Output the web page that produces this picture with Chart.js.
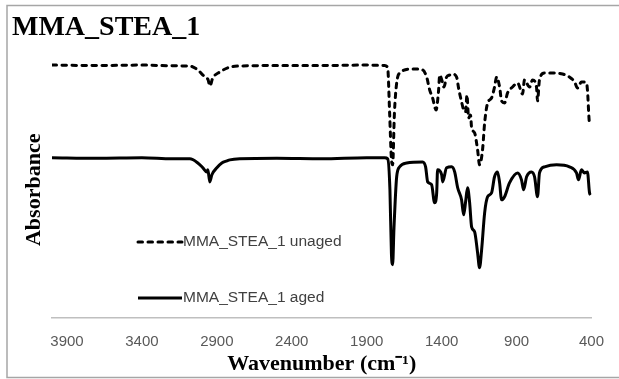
<!DOCTYPE html>
<html>
<head>
<meta charset="utf-8">
<script src="https://cdn.jsdelivr.net/npm/chart.js@4"></script>
<style>
  body { margin: 0; background: #fff; }
  #wrap { width: 619px; height: 379px; }
</style>
</head>
<body>
<div id="wrap"><canvas id="ftirChart" width="619" height="379"></canvas></div>
<script>
// x axis tick labels (wavenumber, cm-1)
const xTicks = [3900, 3400, 2900, 2400, 1900, 1400, 900, 400];

// unaged spectrum (dashed), offset absorbance in arbitrary units
const unagedWn = [4000, 3700, 3400, 3200, 3080, 3027, 2993, 2967, 2958, 2953, 2947, 2927, 2880, 2813, 2760, 2500, 2200, 1900, 1780, 1760, 1747, 1735, 1727, 1715, 1700, 1680, 1593, 1527, 1500, 1480, 1460, 1437, 1420, 1413, 1393, 1385, 1367, 1347, 1327, 1300, 1287, 1267, 1253, 1240, 1231, 1220, 1207, 1200, 1180, 1160, 1147, 1127, 1113, 1093, 1067, 1047, 1033, 1013, 1000, 980, 960, 927, 893, 860, 847, 813, 793, 767, 760, 747, 713, 660, 593, 547, 513, 493, 467, 433, 427, 413, 405];
const unagedAbs = [98.8, 98.6, 98.8, 98.5, 98.4, 96.9, 94.9, 93.75, 93.0, 91.8, 90.6, 93.75, 96.1, 98.0, 98.4, 98.6, 98.6, 98.8, 98.6, 97.7, 80, 62, 59.8, 80, 91.8, 95.7, 97.3, 96.9, 94.1, 89.1, 85.9, 81.25, 89.1, 94.9, 91.8, 90.2, 94.1, 94.9, 95.3, 94.1, 89.8, 84.4, 81.25, 80.5, 87.1, 78.1, 79.3, 74.2, 72.3, 65.6, 59.8, 65.6, 76.2, 84.0, 85.9, 90.2, 94.1, 90.2, 84.8, 84.0, 87.9, 90.2, 91.8, 87.5, 93.0, 90.2, 93.0, 90.2, 84.8, 93.0, 95.7, 95.7, 95.3, 94.1, 92.2, 89.8, 92.2, 91.8, 89.1, 76.2, 76];

// aged spectrum (solid)
const agedWn = [4000, 3700, 3400, 3200, 3080, 3027, 2993, 2967, 2960, 2947, 2933, 2900, 2867, 2833, 2813, 2747, 2500, 2200, 1900, 1780, 1760, 1745, 1735, 1727, 1718, 1700, 1680, 1633, 1527, 1507, 1493, 1467, 1447, 1433, 1427, 1400, 1393, 1367, 1333, 1313, 1293, 1267, 1253, 1240, 1227, 1213, 1200, 1180, 1160, 1147, 1133, 1113, 1093, 1067, 1047, 1027, 1013, 1000, 980, 947, 893, 867, 853, 833, 800, 780, 760, 747, 713, 633, 547, 500, 487, 467, 447, 427, 413, 405];
const agedAbs = [62.5, 62.3, 62.5, 62.1, 62.1, 60.5, 58.6, 57.0, 57.8, 53.1, 55.9, 58.6, 60.5, 61.3, 61.7, 62.1, 62.3, 62.1, 62.5, 62.5, 62.1, 50, 25, 20.7, 35, 55.1, 59.0, 60.5, 60.9, 59.0, 53.1, 52.0, 44.9, 48.8, 57.8, 55.9, 53.1, 58.6, 59.0, 57.0, 50.8, 46.1, 40.2, 45.3, 50.8, 44.9, 35.5, 33.6, 25.4, 19.5, 26.6, 41.0, 47.3, 48.8, 55.1, 57.0, 52.7, 46.1, 47.3, 52.7, 56.6, 53.9, 50.0, 55.1, 57.0, 55.1, 47.3, 56.6, 59.0, 59.8, 59.0, 56.6, 53.9, 57.8, 56.6, 57.0, 48.8, 48];

const seriesLabels = ['MMA_STEA_1 unaged', 'MMA_STEA_1 aged'];

function toPoints(xs, ys) {
    return xs.map((x, i) => ({ x: x, y: ys[i] }));
}

// legend drawn inside the plot, bottom-left, like the Excel original
const insideLegend = {
    id: 'insideLegend',
    afterDraw(chart) {
        const ctx = chart.ctx;
        const rows = [242, 298];
        const x0 = 138, lineLen = 44;
        ctx.save();
        chart.data.datasets.forEach((ds, i) => {
            const y = rows[i];
            ctx.beginPath();
            ctx.setLineDash(ds.borderDash || []);
            ctx.lineCap = ds.borderCapStyle || 'butt';
            ctx.lineWidth = ds.borderWidth;
            ctx.strokeStyle = ds.borderColor;
            ctx.moveTo(x0, y);
            ctx.lineTo(x0 + lineLen, y);
            ctx.stroke();
            ctx.setLineDash([]);
            ctx.fillStyle = '#404040';
            ctx.font = '15.5px "Liberation Sans"';
            ctx.textBaseline = 'middle';
            ctx.textAlign = 'left';
            ctx.fillText(ds.label, x0 + lineLen + 1, y);
        });
        ctx.restore();
    }
};

// outer chart border
const outerBorder = {
    id: 'outerBorder',
    afterDraw(chart) {
        const ctx = chart.ctx;
        ctx.save();
        ctx.strokeStyle = '#a6a6a6';
        ctx.lineWidth = 1.5;
        ctx.strokeRect(7, 5.5, 620, 372);
        ctx.restore();
    }
};

const ctx = document.getElementById('ftirChart').getContext('2d');
new Chart(ctx, {
    type: 'line',
    data: {
        datasets: [{
            label: seriesLabels[0],
            data: toPoints(unagedWn, unagedAbs),
            borderColor: '#000000',
            borderWidth: 3,
            borderDash: [4.5, 5.5],
            borderCapStyle: 'round',
            cubicInterpolationMode: 'monotone',
            pointRadius: 0,
            fill: false
        }, {
            label: seriesLabels[1],
            data: toPoints(agedWn, agedAbs),
            borderColor: '#000000',
            borderWidth: 3,
            cubicInterpolationMode: 'monotone',
            pointRadius: 0,
            fill: false
        }]
    },
    options: {
        responsive: false,
        animation: false,
        layout: {
            padding: { left: 12, right: 27, top: 4, bottom: 0 }
        },
        plugins: {
            legend: { display: false },
            tooltip: { enabled: false },
            title: {
                display: true,
                text: 'MMA_STEA_1',
                align: 'start',
                color: '#000000',
                font: { family: 'Liberation Serif', size: 28, weight: 'bold' },
                padding: { top: 7, bottom: 17.4 }
            }
        },
        scales: {
            x: {
                type: 'linear',
                reverse: true,
                min: 400,
                max: 4000,
                afterBuildTicks: (axis) => {
                    axis.ticks = xTicks.map(v => ({ value: v }));
                },
                grid: { display: false, drawTicks: false },
                border: { display: true, color: '#bfbfbf', width: 1.5 },
                ticks: {
                    padding: 15,
                    color: '#595959',
                    autoSkip: false,
                    maxRotation: 0,
                    font: { family: 'Liberation Sans', size: 15 },
                    callback: (v) => String(v)
                },
                title: {
                    display: true,
                    text: 'Wavenumber (cm\u207B\u00B9)',
                    color: '#000000',
                    font: { family: 'Liberation Serif', size: 22, weight: 'bold' },
                    padding: { top: -14, bottom: 1 }
                }
            },
            y: {
                min: 0,
                max: 100,
                grid: { display: false, drawTicks: false },
                border: { display: false },
                ticks: { display: false },
                title: {
                    display: true,
                    text: 'Absorbance',
                    color: '#000000',
                    font: { family: 'Liberation Serif', size: 22, weight: 'bold' },
                    padding: { top: 9, bottom: 4.6 }
                }
            }
        }
    },
    plugins: [insideLegend, outerBorder]
});
</script>
</body>
</html>
